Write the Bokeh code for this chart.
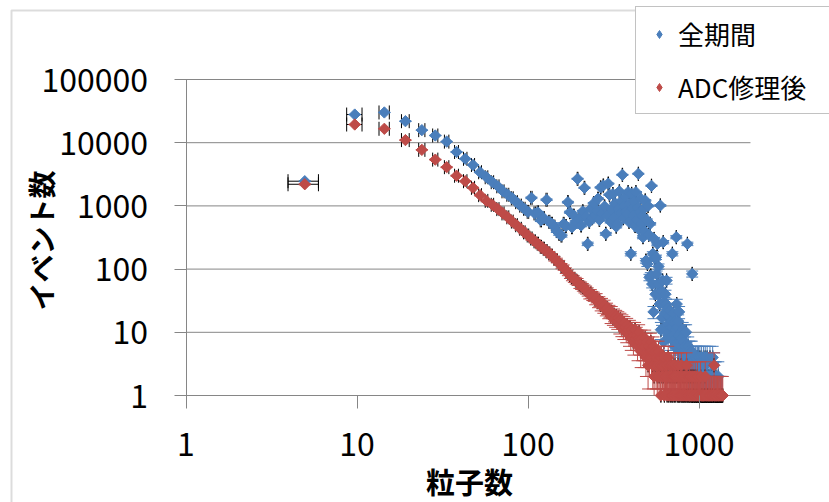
import numpy as np
from bokeh.plotting import figure
from bokeh.models import (FixedTicker, PrintfTickFormatter, Legend, LegendItem,
                          BoxAnnotation, Label)
from bokeh.embed import file_html
from bokeh.resources import INLINE

# ---------------- data ----------------
series_names = ["全期間", "ADC修理後"]
x_title = "粒子数"
y_title = "イベント数"
x_ticks = [1, 10, 100, 1000]
y_ticks = [1, 10, 100, 1000, 10000, 100000]
x_axis_max = 2000

bin_width = 4.75       # particle-number bin width
bin_offset = 0.2
x_error = 1.0          # horizontal error bar (+/-)

all_period = [
    2460, 27900, 30100, 21900, 15800, 13000, 10400, 7130, 5560, 4440,
    3410, 2840, 2370, 2040, 1700, 1500, 1320, 1145, 1010, 900,
    805, 1340, 760, 790, 590, 640, 1250, 560, 521, 470,
    400, 362, 339, 520, 480, 1145, 795, 460, 700, 560,
    2680, 620, 490, 820, 1930, 680, 251, 560, 900, 640,
    1100, 720, 850, 1300, 600, 1960, 760, 2100, 980, 362,
    700, 2250, 1500, 560, 880, 1540, 650, 1100, 470, 521,
    900, 1700, 760, 1200, 3100, 640, 1000, 1400, 820, 750,
    1650, 560, 1100, 175, 1550, 900, 700, 1200, 480, 1650,
    600, 950, 3220, 420, 800, 1300, 520, 700, 320, 900,
    400, 1217, 136, 600, 121, 1000, 350, 74, 521, 79,
    2080, 58, 175, 21, 300, 150, 40, 154, 84, 250,
    58, 110, 40, 28, 1015, 11, 45, 17, 66, 267,
    7, 30, 20, 40, 28, 66, 13, 24, 9, 18,
    10, 22, 12, 8, 15, 12, 175, 9, 20, 14,
    6, 15, 11, 8, 320, 28, 12, 7, 15, 9,
    21, 5, 7, 3, 10, 6, 8, 4, 11, 5,
    7, 3, 10, 6, 4, 5, 10, 2, 4, 251,
    4, 6, 3, 5, 2, 3, 2, 5, 2, 4,
    5, 84, 1, 3, 2, 4, 2, 3, 1, 4,
    2, 4, 1, 3, 2, 4, 1, 2, 4, 3,
    1, 2, 4, 1, 3, 2, 1, 4, 2, 1,
    3, 1, 2, 4, 1, 2, 1, 3, 4, 1,
    2, 1, 1, 2, 4, 1, 0, 2, 1, 1,
    2, 1, 0, 4, 1, 2, 1, 0, 1, 2,
    1, 0, 4, 1, 2, 0, 1, 3, 0, 2,
    1, 0, 1, 2, 0, 1, 0, 1, 1, 0,
    1, 0, 2, 1, 0, 1, 0, 0, 1, 0,
    0, 1, 0, 0, 1, 0, 0, 1, 0, 0,
]

after_fix = [
    2200, 19400, 16600, 11000, 7700, 5400, 4100, 3000, 2460, 1930,
    1480, 1200, 1040, 890, 760, 660, 565, 495, 434, 382,
    340, 305, 275, 252, 225, 210, 193, 177, 163, 146,
    137, 126, 112, 106, 95, 88, 80, 74, 70, 66,
    63, 57, 55, 52, 49, 47, 44, 40, 41, 38,
    37, 33, 35, 30, 31, 27, 29, 25, 27, 23,
    24, 21, 22, 18, 21, 17, 19, 16, 18, 15,
    17, 13, 16, 12, 15, 11, 14, 12, 10, 13,
    11, 9, 12, 8, 11, 10, 7, 9, 11, 8,
    9, 6, 8, 10, 7, 5, 8, 6, 7, 5,
    6, 8, 4, 7, 5, 3, 6, 4, 5, 7,
    4, 5, 3, 6, 2, 4, 5, 3, 4, 2,
    3, 5, 2, 4, 3, 1, 4, 2, 3, 2,
    4, 1, 3, 2, 2, 3, 1, 2, 4, 1,
    2, 3, 1, 2, 3, 1, 2, 1, 3, 2,
    1, 2, 3, 1, 2, 0, 2, 1, 3, 1,
    2, 1, 0, 2, 1, 3, 1, 2, 1, 0,
    1, 2, 1, 0, 2, 1, 1, 3, 0, 1,
    2, 1, 0, 1, 2, 1, 1, 0, 2, 1,
    1, 0, 1, 2, 1, 0, 1, 1, 0, 2,
    1, 0, 1, 1, 0, 2, 1, 0, 1, 1,
    0, 1, 1, 0, 2, 0, 1, 0, 1, 1,
    0, 1, 0, 1, 1, 0, 0, 1, 2, 0,
    1, 0, 1, 0, 1, 0, 0, 1, 0, 1,
    0, 1, 0, 1, 0, 0, 1, 0, 1, 0,
    1, 0, 0, 1, 0, 1, 0, 3, 0, 1,
    0, 1, 0, 0, 1, 0, 1, 0, 0, 1,
    0, 0, 1, 0, 1, 0, 0, 1, 0, 0,
    1, 0, 0, 1, 0, 0, 1, 0, 0, 1,
]

colors = ["#4A7EBB", "#BE4B48"]

# ---------------- layout (pixels) ----------------
W, H = 829, 502
X0_PX, X_DEC = 185.5, 171.0     # pixel of x=1, pixels per decade
Y0_PX, Y_DEC = 395.0, 63.2      # pixel of y=1, pixels per decade
FONT = "Noto Sans CJK JP"
GRAY = "#868686"


def px_to_x(px):
    return 10 ** ((px - X0_PX) / X_DEC)


def px_to_y(py):
    return 10 ** ((Y0_PX - py) / Y_DEC)


bins = np.arange(1, len(all_period) + 1)
particles = bin_width * bins + bin_offset

p = figure(width=W, height=H, x_axis_type="log", y_axis_type="log",
           x_range=(px_to_x(0), px_to_x(W)), y_range=(px_to_y(H), px_to_y(0)),
           output_backend="svg", toolbar_location=None, min_border=0)
p.outline_line_color = None
p.background_fill_color = "white"
p.border_fill_color = "white"
p.xgrid.visible = False
p.ygrid.visible = False

for ax in (p.xaxis[0], p.yaxis[0]):
    ax.minor_tick_line_color = None
    ax.major_tick_line_color = GRAY
    ax.major_label_text_font = FONT
    ax.major_label_text_font_size = "32px"
    ax.major_label_text_color = "black"
    ax.formatter = PrintfTickFormatter(format="%d")

p.xaxis.ticker = FixedTicker(ticks=x_ticks, minor_ticks=[])
p.yaxis.ticker = FixedTicker(ticks=y_ticks, minor_ticks=[])
p.xaxis.fixed_location = y_ticks[0]
p.yaxis.fixed_location = x_ticks[0]
p.xaxis.bounds = (x_ticks[0], x_axis_max)
p.yaxis.bounds = (y_ticks[0], y_ticks[-1])
p.xaxis.axis_line_color = None
p.xaxis.major_tick_in = 0
p.xaxis.major_tick_out = 13
p.xaxis.major_label_standoff = 23
p.yaxis.axis_line_color = GRAY
p.yaxis.major_tick_in = 0
p.yaxis.major_tick_out = 12
p.yaxis.major_label_standoff = 26

# horizontal gridlines across the plot area
p.segment(x0=[x_ticks[0]] * len(y_ticks), y0=y_ticks,
          x1=[x_axis_max] * len(y_ticks), y1=y_ticks,
          line_color=GRAY, line_width=1)

# outer chart border
p.add_layout(BoxAnnotation(left=px_to_x(11), right=px_to_x(W + 100),
                           top=px_to_y(10), bottom=px_to_y(H + 100),
                           fill_color=None, line_color="#8a8a8a", line_width=2))


def draw_series(counts, color):
    c = np.asarray(counts, dtype=float)
    m = c > 0
    xs = particles[m]
    ys = c[m]
    err = np.sqrt(ys)
    lo_raw = ys - err
    lo = np.maximum(lo_raw, y_ticks[0])
    hi = ys + err
    # horizontal error bars (black)
    p.segment(xs - x_error, ys, xs + x_error, ys, line_color="black", line_width=1)
    p.scatter(np.concatenate([xs - x_error, xs + x_error]), np.concatenate([ys, ys]),
              marker="dash", angle=np.pi / 2, size=14, line_color="black", line_width=1)
    # vertical error bars (series colour), cut at the axis minimum
    p.segment(xs, lo, xs, hi, line_color=color, line_width=1)
    keep = lo_raw >= y_ticks[0]
    p.scatter(np.concatenate([xs, xs[keep]]), np.concatenate([hi, lo_raw[keep]]),
              marker="dash", size=12, line_color=color, line_width=1)
    p.scatter(xs, ys, marker="square", angle=np.pi / 4, size=8,
              fill_color=color, line_color=color)
    # legend swatch (a small diamond hidden inside the first marker)
    return p.scatter(xs[:1], ys[:1], marker="diamond", size=8,
                     fill_color=color, line_color=color)


r_all = draw_series(all_period, colors[0])
r_fix = draw_series(after_fix, colors[1])

legend = Legend(items=[LegendItem(label=series_names[0], renderers=[r_all]),
                       LegendItem(label=series_names[1], renderers=[r_fix])],
                location=(635, H - 114), margin=0, padding=8, spacing=16,
                glyph_width=30, glyph_height=20, label_height=30, label_standoff=4,
                label_width=220,
                label_text_font=FONT, label_text_font_size="26px",
                label_text_color="black",
                border_line_color=GRAY, border_line_width=1,
                background_fill_color="white", background_fill_alpha=1.0)
p.add_layout(legend)

# axis titles
p.add_layout(Label(x=px_to_x(469), y=px_to_y(480), text=x_title,
                   text_align="center", text_baseline="middle",
                   text_font=FONT, text_font_size="29px", text_font_style="bold",
                   text_color="black"))
p.add_layout(Label(x=px_to_x(40), y=px_to_y(240), text=y_title,
                   angle=np.pi / 2, text_align="center", text_baseline="middle",
                   text_font=FONT, text_font_size="28px", text_font_style="bold",
                   text_color="black"))

open("out.html", "w").write(file_html(p, INLINE))
